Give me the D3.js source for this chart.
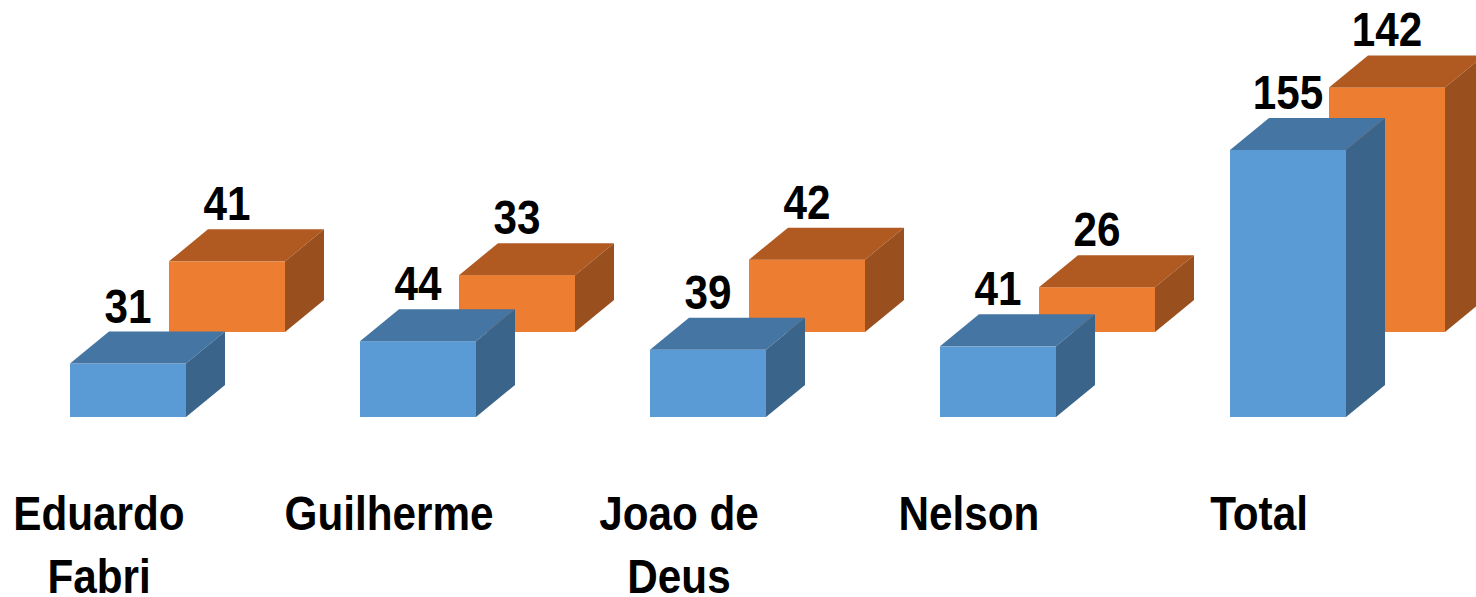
<!DOCTYPE html>
<html>
<head>
<meta charset="utf-8">
<script src="https://cdn.jsdelivr.net/npm/d3@7"></script>
<style>
  html, body { margin: 0; padding: 0; background: #fff; overflow: hidden; }
  svg { display: block; }
  text { font-family: "Liberation Sans", Arial, sans-serif; font-weight: bold; fill: #000; }
</style>
</head>
<body>
<svg id="chart" width="1476" height="597"></svg>
<script>
// ---- data ----
const categories = ["Eduardo Fabri", "Guilherme", "Joao de Deus", "Nelson", "Total"];
const seriesFront = [31, 44, 39, 41, 155];   // blue (front row)
const seriesBack  = [41, 33, 42, 26, 142];   // orange (back row)

// ---- layout ----
const svg = d3.select("#chart");

const x = d3.scaleBand().domain(categories).range([70, 1346]).paddingInner(0.6).paddingOuter(0).align(0);
const y = d3.scaleLinear().domain([0, 155]).range([417, 150]);

const depth = { dx: 39, dy: -32 };
const rowOffset = { dx: 99, dy: -85 };
const fontScale = 0.88;

const palettes = {
  front: { face: "#5B9BD5", top: "#4475A3", side: "#3A6489" },
  back:  { face: "#ED7D31", top: "#B05A21", side: "#99501E" }
};

function drawRow(values, pal, off, cls) {
  const g = svg.append("g").attr("class", cls);
  const bw = x.bandwidth();
  values.forEach((v, i) => {
    const x0 = x(categories[i]) + off.dx;
    const x1 = x0 + bw;
    const yb = y(0) + off.dy;
    const yt = y(v) + off.dy;
    const b = g.append("g");
    b.append("rect").attr("x", x0).attr("y", yt).attr("width", bw).attr("height", yb - yt)
      .attr("fill", pal.face);
    b.append("path").attr("d", `M${x0},${yt} L${x0 + depth.dx},${yt + depth.dy} L${x1 + depth.dx},${yt + depth.dy} L${x1},${yt} Z`)
      .attr("fill", pal.top);
    b.append("path").attr("d", `M${x1},${yt} L${x1 + depth.dx},${yt + depth.dy} L${x1 + depth.dx},${yb + depth.dy} L${x1},${yb} Z`)
      .attr("fill", pal.side);
  });
}

function drawLabels(values, off) {
  const bw = x.bandwidth();
  values.forEach((v, i) => {
    const cx = x(categories[i]) + off.dx + bw / 2;
    const by = y(v) + off.dy + depth.dy - 9;
    svg.append("text")
      .attr("transform", `translate(${cx},${by}) scale(${fontScale},1)`)
      .attr("text-anchor", "middle")
      .attr("font-size", 48)
      .text(v);
  });
}

drawRow(seriesBack, palettes.back, rowOffset, "back");
drawRow(seriesFront, palettes.front, { dx: 0, dy: 0 }, "front");
drawLabels(seriesBack, rowOffset);
drawLabels(seriesFront, { dx: 0, dy: 0 });

// ---- category axis labels (wrapped) ----
const maxLabelWidth = 240;
const axisG = svg.append("g").attr("class", "x-axis");
categories.forEach((c, i) => {
  const cx = x(c) + 29;
  const t = axisG.append("text")
    .attr("transform", `translate(${cx},530) scale(${fontScale},1)`)
    .attr("text-anchor", "middle")
    .attr("font-size", 48);
  const words = c.split(" ");
  let line = [];
  let lineNo = 0;
  let tspan = t.append("tspan").attr("x", 0).attr("y", 0);
  words.forEach(w => {
    line.push(w);
    tspan.text(line.join(" "));
    if (tspan.node().getComputedTextLength() * fontScale > maxLabelWidth && line.length > 1) {
      line.pop();
      tspan.text(line.join(" "));
      line = [w];
      lineNo++;
      tspan = t.append("tspan").attr("x", 0).attr("y", lineNo * 63).text(w);
    }
  });
});
</script>
</body>
</html>
